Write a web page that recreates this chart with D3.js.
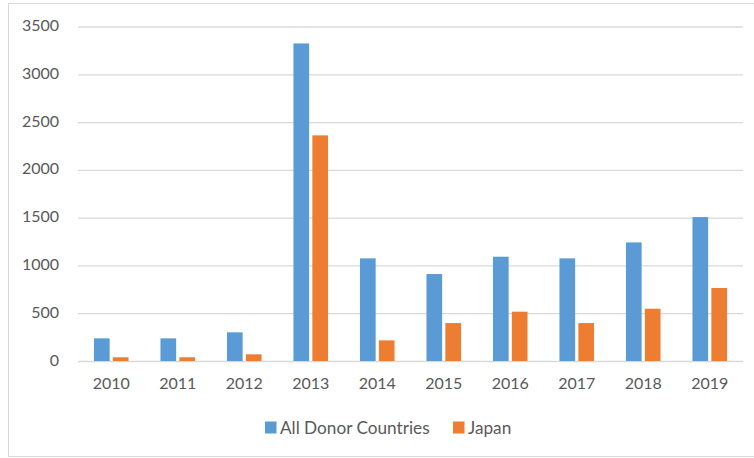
<!DOCTYPE html>
<html>
<head>
<meta charset="utf-8">
<script src="https://cdn.jsdelivr.net/npm/d3@7"></script>
<style>
  body { margin: 0; background: #fff; }
  text { font-family: Lato, "Open Sans", sans-serif; fill: #595959; }
</style>
</head>
<body>
<div id="chart"></div>
<script>
// Data

var years = ['2010', '2011', '2012', '2013', '2014', '2015', '2016', '2017', '2018', '2019'];
var seriesNames = ['All Donor Countries', 'Japan'];
var allDonors = [237, 237, 300, 3323, 1074, 910, 1091, 1074, 1241, 1506];
var japan = [39, 39, 70, 2361, 216, 397, 516, 397, 547, 764];
var yTicks = [0, 500, 1000, 1500, 2000, 2500, 3000, 3500];
var colors = ['#5b9bd5', '#ed7d31'];

// Dimensions

var width = 754;
var height = 458;
var plotLeft = 78, plotRight = 743, plotTop = 26.5, plotBottom = 361;

var svg = d3.select('#chart')
	.append('svg')
	.attr('width', width)
	.attr('height', height);

// chart frame
svg.append('rect')
	.attr('x', 8.5)
	.attr('y', 3.5)
	.attr('width', 760)
	.attr('height', 453)
	.attr('fill', '#fff')
	.attr('stroke', '#d9d9d9')
	.attr('stroke-width', 1);

// Scales

var x0 = d3.scaleBand()
	.domain(years)
	.range([plotLeft, plotRight]);

var x1 = d3.scaleBand()
	.domain(seriesNames)
	.range([x0.bandwidth() * 0.24, x0.bandwidth() * 0.76])
	.paddingInner(0.17);

var y = d3.scaleLinear()
	.domain([0, 3500])
	.range([plotBottom, plotTop]);

// Gridlines + y labels

var yAxis = d3.axisLeft(y)
	.tickValues(yTicks)
	.tickSize(-(plotRight - plotLeft))
	.tickPadding(19)
	.tickFormat(d3.format('d'));

var gy = svg.append('g')
	.attr('transform', 'translate(' + plotLeft + ',0)')
	.call(yAxis);

gy.select('.domain').remove();
gy.selectAll('line')
	.attr('stroke', '#d9d9d9')
	.attr('stroke-width', 1.3);
gy.selectAll('text')
	.attr('font-size', 16)
	.attr('dy', '0.25em');

// Bars

var rows = years.map(function(yr, i) {
	return { year: yr, values: [allDonors[i], japan[i]] };
});

var groups = svg.append('g')
	.selectAll('g')
	.data(rows)
	.enter()
	.append('g')
	.attr('transform', function(d) { return 'translate(' + x0(d.year) + ',0)'; });

groups.selectAll('rect')
	.data(function(d) {
		return d.values.map(function(v, j) { return { name: seriesNames[j], value: v, idx: j }; });
	})
	.enter()
	.append('rect')
	.attr('x', function(d) { return x1(d.name); })
	.attr('y', function(d) { return y(d.value); })
	.attr('width', x1.bandwidth())
	.attr('height', function(d) { return y(0) - y(d.value); })
	.attr('fill', function(d) { return colors[d.idx]; });

// X axis labels

var xAxis = d3.axisBottom(x0).tickSize(0).tickPadding(17);

var gx = svg.append('g')
	.attr('transform', 'translate(0,' + plotBottom + ')')
	.call(xAxis);

gx.select('.domain').remove();
gx.selectAll('text')
	.attr('font-size', 16);

// Legend

var legendX = [265, 453];
var legend = svg.append('g')
	.selectAll('g')
	.data(seriesNames)
	.enter()
	.append('g')
	.attr('transform', function(d, i) { return 'translate(' + legendX[i] + ',421.5)'; });

legend.append('rect')
	.attr('width', 11.5)
	.attr('height', 12)
	.attr('fill', function(d, i) { return colors[i]; });

legend.append('text')
	.attr('x', 15)
	.attr('y', 12)
	.attr('font-size', 17.2)
	.text(function(d) { return d; });
</script>
</body>
</html>
